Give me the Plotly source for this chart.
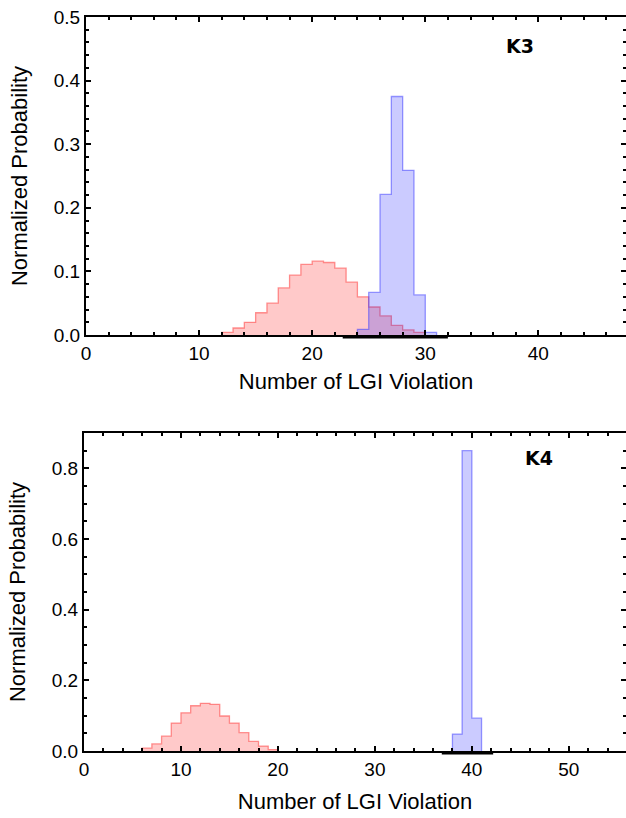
import plotly.graph_objects as go

# ---------------- data ----------------
# K3 panel (bin width 1, values are left bin edges)
k3_red_start = 12
k3_red_vals = [0.004, 0.011, 0.020, 0.035, 0.050, 0.074, 0.094, 0.111, 0.116, 0.114,
               0.105, 0.083, 0.060, 0.044, 0.030, 0.015, 0.008, 0.004]
k3_blue_start = 24
k3_blue_vals = [0.009, 0.067, 0.221, 0.375, 0.259, 0.063, 0.004]
k3_dark_span = [22.7, 32.0]

# K4 panel
k4_red_start = 6
k4_red_vals = [0.008, 0.020, 0.042, 0.079, 0.108, 0.128, 0.135, 0.132, 0.099, 0.079,
               0.052, 0.027, 0.014, 0.004]
k4_blue_start = 38
k4_blue_vals = [0.048, 0.850, 0.093]
k4_dark_span = [36.9, 42.2]

x_title = "Number of LGI Violation"
y_title = "Normalized Probability"
labels = ["K3", "K4"]

RED_FILL = "rgba(255,0,0,0.21)"
RED_LINE = "rgba(255,60,60,0.55)"
BLUE_FILL = "rgba(30,30,255,0.23)"
BLUE_LINE = "rgba(70,70,255,0.55)"


def step_xy(start, vals):
    xs = [start + i for i in range(len(vals) + 1)]
    ys = list(vals) + [vals[-1]]
    xs = [start] + xs
    ys = [0] + ys
    xs = xs + [xs[-1]]
    ys = ys + [0]
    return xs, ys


fig = go.Figure()


def add_hist(start, vals, fill, line, xa, ya):
    xs, ys = step_xy(start, vals)
    fig.add_trace(go.Scatter(x=xs, y=ys, mode="lines", line=dict(shape="hv", color=line, width=1.3),
                             fill="toself", fillcolor=fill, xaxis=xa, yaxis=ya,
                             showlegend=False, hoverinfo="skip"))


add_hist(k3_red_start, k3_red_vals, RED_FILL, RED_LINE, "x", "y")
add_hist(k3_blue_start, k3_blue_vals, BLUE_FILL, BLUE_LINE, "x", "y")
add_hist(k4_red_start, k4_red_vals, RED_FILL, RED_LINE, "x2", "y2")
add_hist(k4_blue_start, k4_blue_vals, BLUE_FILL, BLUE_LINE, "x2", "y2")

W, H = 626, 818
top_dom = [1 - 335 / H, 1 - 17 / H]
bot_dom = [1 - 751 / H, 1 - 433 / H]

tick_font = dict(family="Liberation Sans, Arial, sans-serif", size=19, color="black")
title_font = dict(family="Liberation Sans, Arial, sans-serif", size=22, color="black")


def xaxis(dom, rng, anchor, standoff):
    return dict(domain=dom, range=rng, anchor=anchor, showgrid=False, zeroline=False,
                showline=True, linecolor="black", linewidth=2, mirror="allticks",
                ticks="inside", ticklen=5, tickwidth=2, tickcolor="black", dtick=10, tick0=0,
                minor=dict(ticks="inside", ticklen=3, tickwidth=1.5, tickcolor="black", dtick=2),
                automargin=False,
                tickfont=tick_font, title=dict(text=x_title, font=title_font, standoff=standoff))


def yaxis(dom, rng, dtick, mdtick, anchor):
    return dict(domain=dom, range=rng, anchor=anchor, showgrid=False, zeroline=False,
                showline=True, linecolor="black", linewidth=2, mirror="allticks",
                ticks="inside", ticklen=5, tickwidth=2, tickcolor="black", dtick=dtick, tick0=0,
                tickformat=".1f", automargin=False,
                minor=dict(ticks="inside", ticklen=3, tickwidth=1.5, tickcolor="black", dtick=mdtick),
                tickfont=tick_font, title=dict(text=y_title, font=title_font, standoff=20))


fig.update_layout(
    width=W, height=H, margin=dict(l=0, r=0, t=0, b=0),
    paper_bgcolor="white", plot_bgcolor="white",
    xaxis=xaxis([86 / W, 1.0], [0, 47.75], "y", 11),
    yaxis=yaxis(top_dom, [0, 0.5], 0.1, 0.02, "x"),
    xaxis2=xaxis([84 / W, 1.0], [0, 55.9], "y2", 15),
    yaxis2=yaxis(bot_dom, [0, 0.9], 0.2, 0.05, "x2"),
)

fig.add_annotation(x=38.4, y=0.455, xref="x", yref="y", text="<b>K3</b>", showarrow=False,
                   font=dict(family="DejaVu Sans", size=19, color="black"))
fig.add_annotation(x=46.9, y=0.83, xref="x2", yref="y2", text="<b>K4</b>", showarrow=False,
                   font=dict(family="DejaVu Sans", size=19, color="black"))

fig.add_shape(type="line", xref="x", yref="y domain", x0=k3_dark_span[0], x1=k3_dark_span[1],
              y0=-0.006, y1=-0.006, line=dict(color="black", width=3))
fig.add_shape(type="line", xref="x2", yref="y2 domain", x0=k4_dark_span[0], x1=k4_dark_span[1],
              y0=-0.006, y1=-0.006, line=dict(color="black", width=3))

fig.write_html("out.html", config={"displayModeBar": False},
               post_script="document.body.style.margin='0px';")
